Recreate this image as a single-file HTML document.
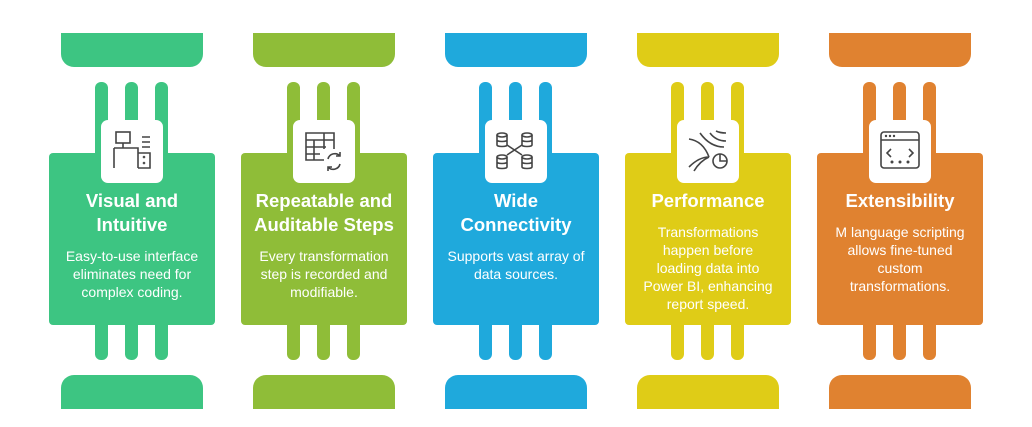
<!DOCTYPE html><html><head><style>
body{margin:0;width:1032px;height:427px;background:#fff;position:relative;overflow:hidden;font-family:"Liberation Sans",sans-serif}
.c{position:absolute;top:0;width:192px;height:427px}
.tc{position:absolute;left:12px;top:33px;width:142px;height:34px;border-radius:0 0 13px 13px}
.bc{position:absolute;left:12px;top:375px;width:142px;height:34px;border-radius:13px 13px 0 0}
.b{position:absolute;width:13px}
.bt{top:82px;height:80px;border-radius:6px 6px 0 0}
.bb{top:315px;height:45px;border-radius:0 0 6px 6px}
.card{position:absolute;left:0;top:153px;width:166px;height:172px;box-sizing:border-box;padding-top:36px;border-radius:4px;color:#fff;text-align:center}
.ic{position:absolute;left:52px;top:120px;width:62px;height:63px;background:#fff;border-radius:7px}
.ic svg{position:absolute;left:9px;top:9px}
h3{margin:0;font-size:18.5px;line-height:24px;font-weight:bold}
p{margin:10px auto 0;width:142px;font-size:14px;line-height:18px}
</style></head><body>
<div class="c" style="left:49px">
<div class="tc" style="background:#3dc582"></div>
<div class="b bt" style="left:46px;background:#3dc582"></div><div class="b bt" style="left:76px;background:#3dc582"></div><div class="b bt" style="left:106px;background:#3dc582"></div>
<div class="b bb" style="left:46px;background:#3dc582"></div><div class="b bb" style="left:76px;background:#3dc582"></div><div class="b bb" style="left:106px;background:#3dc582"></div>
<div class="card" style="background:#3dc582"><h3>Visual and<br>Intuitive</h3><p>Easy-to-use interface eliminates need for complex coding.</p></div>
<div class="bc" style="background:#3dc582"></div>
<div class="ic"><svg width="44" height="44" fill="none" stroke="#444" stroke-width="1.6"><rect x="6" y="3" width="14" height="11"/><path d="M13 14v5M4 19h24v20M4 19v20M28 24h12v15H28M32 8h8M32 13h8M32 18h8"/><circle cx="34" cy="28" r=".5"/><circle cx="34" cy="34" r=".5"/></svg></div>
</div>

<div class="c" style="left:241px">
<div class="tc" style="background:#8fbd38"></div>
<div class="b bt" style="left:46px;background:#8fbd38"></div><div class="b bt" style="left:76px;background:#8fbd38"></div><div class="b bt" style="left:106px;background:#8fbd38"></div>
<div class="b bb" style="left:46px;background:#8fbd38"></div><div class="b bb" style="left:76px;background:#8fbd38"></div><div class="b bb" style="left:106px;background:#8fbd38"></div>
<div class="card" style="background:#8fbd38"><h3>Repeatable and<br>Auditable Steps</h3><p>Every transformation step is recorded and modifiable.</p></div>
<div class="bc" style="background:#8fbd38"></div>
<div class="ic"><svg width="44" height="44" fill="none" stroke="#444" stroke-width="1.6"><path d="M22 31H4V4h28v16M4 11h28M4 18h20M4 25h14M12 11v20M22 4v16"/><path d="M26 30a7 7 0 0 1 12-3M38 35a7 7 0 0 1-12 3M38 23v4h-4M26 42v-4h4"/></svg></div>
</div>

<div class="c" style="left:433px">
<div class="tc" style="background:#1fa9dc"></div>
<div class="b bt" style="left:46px;background:#1fa9dc"></div><div class="b bt" style="left:76px;background:#1fa9dc"></div><div class="b bt" style="left:106px;background:#1fa9dc"></div>
<div class="b bb" style="left:46px;background:#1fa9dc"></div><div class="b bb" style="left:76px;background:#1fa9dc"></div><div class="b bb" style="left:106px;background:#1fa9dc"></div>
<div class="card" style="background:#1fa9dc"><h3>Wide<br>Connectivity</h3><p>Supports vast array of data sources.</p></div>
<div class="bc" style="background:#1fa9dc"></div>
<div class="ic"><svg width="44" height="44" fill="none" stroke="#444" stroke-width="1.6"><ellipse cx="8" cy="6" rx="5" ry="2"/><path d="M3 6v10c0 2 10 2 10 0V6M3 11c0 2 10 2 10 0"/><ellipse cx="33" cy="6" rx="5" ry="2"/><path d="M28 6v10c0 2 10 2 10 0V6M28 11c0 2 10 2 10 0"/><ellipse cx="8" cy="28" rx="5" ry="2"/><path d="M3 28v10c0 2 10 2 10 0V28M3 33c0 2 10 2 10 0"/><ellipse cx="33" cy="28" rx="5" ry="2"/><path d="M28 28v10c0 2 10 2 10 0V28M28 33c0 2 10 2 10 0M13 16l15 10M28 16L13 26"/></svg></div>
</div>

<div class="c" style="left:625px">
<div class="tc" style="background:#dfcc17"></div>
<div class="b bt" style="left:46px;background:#dfcc17"></div><div class="b bt" style="left:76px;background:#dfcc17"></div><div class="b bt" style="left:106px;background:#dfcc17"></div>
<div class="b bb" style="left:46px;background:#dfcc17"></div><div class="b bb" style="left:76px;background:#dfcc17"></div><div class="b bb" style="left:106px;background:#dfcc17"></div>
<div class="card" style="background:#dfcc17"><h3>Performance</h3><p>Transformations<br>happen before<br>loading data into<br>Power BI, enhancing<br>report speed.</p></div>
<div class="bc" style="background:#dfcc17"></div>
<div class="ic"><svg width="44" height="44" fill="none" stroke="#444" stroke-width="1.6"><path d="M3 10q14 2 20 18M3 38q10-10 20-10M8 42q6-10 15-14M14 4q10 14 24 14M24 4q6 8 16 8M30 2q4 2 10 2"/><circle cx="34" cy="32" r="7"/><path d="M34 25v7h7"/></svg></div>
</div>

<div class="c" style="left:817px">
<div class="tc" style="background:#e08230"></div>
<div class="b bt" style="left:46px;background:#e08230"></div><div class="b bt" style="left:76px;background:#e08230"></div><div class="b bt" style="left:106px;background:#e08230"></div>
<div class="b bb" style="left:46px;background:#e08230"></div><div class="b bb" style="left:76px;background:#e08230"></div><div class="b bb" style="left:106px;background:#e08230"></div>
<div class="card" style="background:#e08230"><h3>Extensibility</h3><p>M language scripting allows fine-tuned custom transformations.</p></div>
<div class="bc" style="background:#e08230"></div>
<div class="ic"><svg width="44" height="44" fill="none" stroke="#444" stroke-width="1.6"><rect x="3" y="3" width="38" height="36" rx="3"/><path d="M3 11h38M13 20l-4 4 4 4M31 20l4 4-4 4"/><g fill="#444" stroke="none"><circle cx="8" cy="7" r="1.2"/><circle cx="12" cy="7" r="1.2"/><circle cx="16" cy="7" r="1.2"/><circle cx="14" cy="33" r="1.5"/><circle cx="22" cy="33" r="1.5"/><circle cx="30" cy="33" r="1.5"/></g></svg></div>
</div>
</body></html>
